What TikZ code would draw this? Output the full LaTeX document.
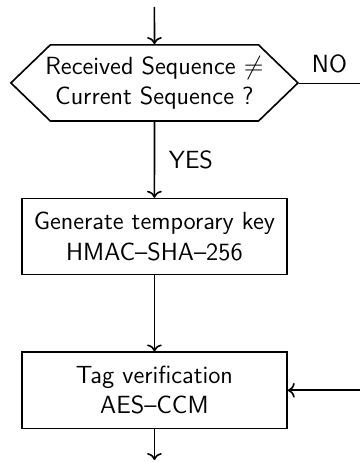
\documentclass[tikz,border=0pt]{standalone}
\usepackage{amsmath,amssymb}
\usepackage{tikz}
\usetikzlibrary{arrows.meta,positioning,shapes.symbols}
\newcommand{\flowfont}{\sffamily\fontsize{11.5pt}{14pt}\selectfont}
\tikzset{
  test/.style={signal,signal to=west and east,signal pointer angle=88,draw,line width=0.75pt,align=center,font=\flowfont,minimum width=132.9pt,minimum height=35.2pt,inner xsep=-22pt,inner ysep=2pt},
  proc/.style={draw,line width=0.75pt,align=center,font=\flowfont,minimum width=122.7pt,minimum height=35.2pt,inner sep=2pt},
  arr/.style={->,line width=0.75pt},
  lbl/.style={font=\flowfont},
}
\begin{document}
\begin{tikzpicture}[node distance=35.2pt]
  \useasboundingbox (-71.5pt,38.4pt) rectangle (95.1pt,-175.5pt);
  % sequence check
  \node[test] (seqchk) at (0,0) {Received Sequence $\neq$\\Current Sequence ?};
  \coordinate (entry) at (0,35.2pt);
  \draw[arr] (entry) -- (seqchk);
  % key derivation and tag check
  \node[proc,below=of seqchk] (genkey) {Generate temporary key\\HMAC--SHA--256};
  \node[proc,below=of genkey] (tagver) {Tag verification\\AES--CCM};
  \coordinate (exit) at (0,-174.6pt);
  \coordinate (noout) at (95.1pt,0);
  \coordinate (noin) at (noout |- tagver);
  \draw[arr] (seqchk) -- node[lbl,right,xshift=3pt] {YES} (genkey);
  \draw[arr] (genkey) -- (tagver);
  \draw[arr] (tagver) -- (exit);
  \draw (seqchk.east) -- node[lbl,above,yshift=1pt] {NO} (noout);
  \draw[arr] (noin) -- (tagver.east);
\end{tikzpicture}
\end{document}
